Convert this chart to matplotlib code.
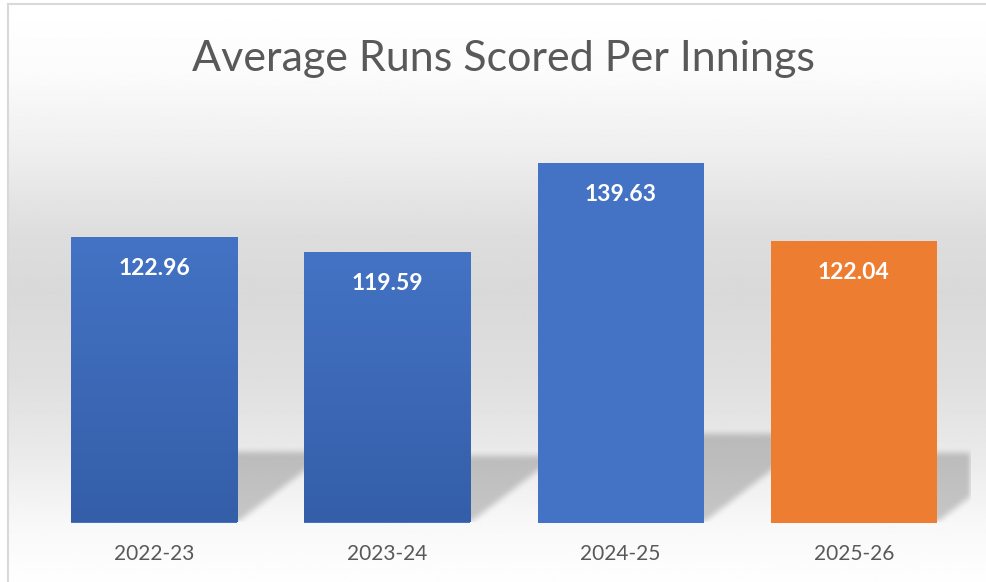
import numpy as np
import matplotlib
matplotlib.use("Agg")
import matplotlib.pyplot as plt
from matplotlib.lines import Line2D

seasons = ["2022-23", "2023-24", "2024-25", "2025-26"]
avg_runs = [122.96, 119.59, 139.63, 122.04]
labels = ["122.96", "119.59", "139.63", "122.04"]

W, H = 987, 582
fig = plt.figure(figsize=(W / 100, H / 100), dpi=100)
fig.patch.set_facecolor("white")

# chart background: white -> light gray -> white
bg = fig.add_axes([8 / W, 0, 1 - 8 / W, 578 / H], zorder=0)
t = np.linspace(0, 1, 400)
stops_t = [0.0, 0.12, 0.25, 0.40, 0.50, 0.65, 0.78, 0.90, 1.0]
stops_v = [255, 251, 239, 221, 217, 223, 234, 248, 254]
g = np.interp(t, stops_t, stops_v) / 255.0
bg.imshow(np.repeat(g[:, None], 2, axis=1), cmap="gray", vmin=0, vmax=1,
          aspect="auto", extent=(0, 1, 0, 1), interpolation="bilinear")
bg.set_axis_off()

# border (left and top edges visible)
fig.add_artist(Line2D([8.5 / W, 8.5 / W], [0, 1 - 3.5 / H], color="#d9d9d9", lw=1.5))
fig.add_artist(Line2D([8.5 / W, 1], [1 - 3.5 / H, 1 - 3.5 / H], color="#d9d9d9", lw=1.5))

# plot area
ymin, ymax = 59.3, 140.0
px_per_y = 4.48
ax_left, ax_right = 37.5, 970.5
ax_bottom = 522.5
ax_h = (ymax - ymin) * px_per_y
ax = fig.add_axes([ax_left / W, (H - ax_bottom) / H, (ax_right - ax_left) / W, ax_h / H], zorder=1)
ax.set_xlim(-0.5, 3.5)
ax.set_ylim(ymin, ymax)
ax.patch.set_alpha(0)
ax.set_axis_off()

x = np.arange(len(seasons))
width = 0.712
px_per_x = (ax_right - ax_left) / 4.0

# perspective shadows behind bars
nx, ny = int(ax_right - ax_left), int(ax_h)
xs = -0.5 + (np.arange(nx) + 0.5) / nx * 4.0
ys = ymin + (np.arange(ny) + 0.5) / ny * (ymax - ymin)
XX, YY = np.meshgrid(xs, ys)
mask = np.zeros_like(XX)
for xi, v in zip(x, avg_runs):
    sh = 0.245 * (v - ymin)
    shift = 1.3 * sh * px_per_y / px_per_x
    frac = (YY - ymin) / sh
    inside = (frac >= 0) & (frac <= 1) & \
             (XX >= xi - width / 2 + shift * frac) & (XX <= xi + width / 2 + shift * frac)
    mask = np.maximum(mask, inside.astype(float))


def box_blur(a, r, axis):
    k = np.ones(2 * r + 1) / (2 * r + 1)
    return np.apply_along_axis(lambda m: np.convolve(m, k, mode="same"), axis, a)


for _ in range(2):
    mask = box_blur(mask, 3, 0)
    mask = box_blur(mask, 3, 1)
shadow = np.zeros((ny, nx, 4))
shadow[..., 3] = 0.2 * mask
ax.imshow(shadow, extent=(-0.5, 3.5, ymin, ymax), origin="lower", aspect="auto",
          zorder=1, interpolation="bilinear")

# bars
colors = ["#4472c4", "#4472c4", "#4472c4", "#ed7d31"]
bars = ax.bar(x, np.array(avg_runs) - ymin, bottom=ymin, width=width,
              color=colors, zorder=2, linewidth=0)

# vertical gradient on the first two bars
top_c = np.array([68, 115, 197]) / 255
bot_c = np.array([52, 94, 168]) / 255
grad = np.linspace(0, 1, 256)[:, None]
grad_img = (bot_c[None, None, :] * grad[..., None] + top_c[None, None, :] * (1 - grad[..., None]))
grad_img = np.repeat(grad_img, 2, axis=1)
for b in list(bars)[:2]:
    x0, y0 = b.get_x(), b.get_y()
    im = ax.imshow(grad_img, extent=(x0, x0 + b.get_width(), y0, y0 + b.get_height()),
                   origin="upper", aspect="auto", zorder=2.5, interpolation="bilinear")
    im.set_clip_path(b)

# data labels
for xi, v, lab in zip(x, avg_runs, labels):
    ax.annotate(lab, (xi, v), xytext=(0, -38 * 0.72), textcoords="offset points",
                ha="center", va="baseline", color="white", fontsize=16.5,
                fontweight="bold", family="Lato", zorder=4)

# category labels
for xi, s in zip(x, seasons):
    xf = (ax_left + (xi + 0.5) * px_per_x) / W
    fig.text(xf, 1 - 560 / H, s, ha="center", va="baseline", fontsize=15,
             family="Lato", color="#595959", zorder=5)

fig.text(503.5 / W, 1 - 70.5 / H, "Average Runs Scored Per Innings", ha="center",
         va="baseline", fontsize=31, family="Lato", fontweight="normal",
         color="#595959", zorder=5)

fig.savefig("out.png", dpi=100)
